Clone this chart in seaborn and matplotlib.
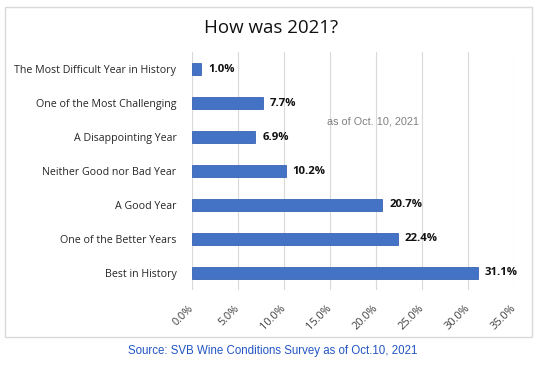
import matplotlib
matplotlib.use("Agg")
import matplotlib.pyplot as plt
import seaborn as sns
import pandas as pd
from matplotlib.patches import Rectangle
from matplotlib.ticker import FuncFormatter, MultipleLocator

categories = [
    "The Most Difficult Year in History",
    "One of the Most Challenging",
    "A Disappointing Year",
    "Neither Good nor Bad Year",
    "A Good Year",
    "One of the Better Years",
    "Best in History",
]
shares = [1.0, 7.7, 6.9, 10.2, 20.7, 22.4, 31.1]

df = pd.DataFrame({"category": categories, "share": shares})

sns.set_theme(style="white")
plt.rcParams["font.family"] = ["Open Sans", "DejaVu Sans"]

fig = plt.figure(figsize=(5.42, 3.65), dpi=100)
ax = fig.add_axes([0.3537, 0.2055, 0.5947, 0.652])

sns.barplot(data=df, x="share", y="category", color="#4472C4",
            saturation=1, width=0.36, edgecolor="#3A65B5", linewidth=0.6, ax=ax)

ax.set_xlim(0, 35)
ax.xaxis.set_major_locator(MultipleLocator(5))
ax.xaxis.set_major_formatter(FuncFormatter(lambda v, p: f"{v:.1f}%"))
ax.grid(axis="x", color="#D9D9D9", linewidth=0.8)
ax.set_axisbelow(True)
for s in ax.spines.values():
    s.set_visible(False)
ax.set_xlabel("")
ax.set_ylabel("")
ax.tick_params(axis="y", length=0, pad=11, labelsize=7.7, labelcolor="#262626")
ax.tick_params(axis="x", length=0, pad=12, labelsize=7.9, labelcolor="#404040")
for lbl in ax.get_xticklabels():
    lbl.set_rotation(45)
    lbl.set_ha("right")
    lbl.set_va("center")
    lbl.set_rotation_mode("anchor")

for i, v in enumerate(shares):
    ax.annotate(f"{v:.1f}%", (v, i), xytext=(5, 0), textcoords="offset points",
                va="center", ha="left", fontsize=8.2, fontweight="bold",
                color="#111111")

ax.text(19.7, 1.55, "as of Oct. 10, 2021", ha="center", va="center",
        fontsize=7.8, color="#808080", family=["Liberation Sans", "DejaVu Sans"])

fig.text(0.5, 0.922, "How was 2021?", ha="center", va="center",
         fontsize=13.5, color="#111111")
fig.text(0.503, 0.038, "Source: SVB Wine Conditions Survey as of Oct.10, 2021",
         ha="center", va="center", fontsize=8.3, color="#2255C4",
         family=["Liberation Sans", "DejaVu Sans"])

fig.patches.append(Rectangle((5 / 542, 1 - 337 / 365), 527 / 542, 330 / 365,
                             transform=fig.transFigure, fill=False,
                             edgecolor="#D9D9D9", linewidth=1))

fig.savefig("out.png", dpi=100)
